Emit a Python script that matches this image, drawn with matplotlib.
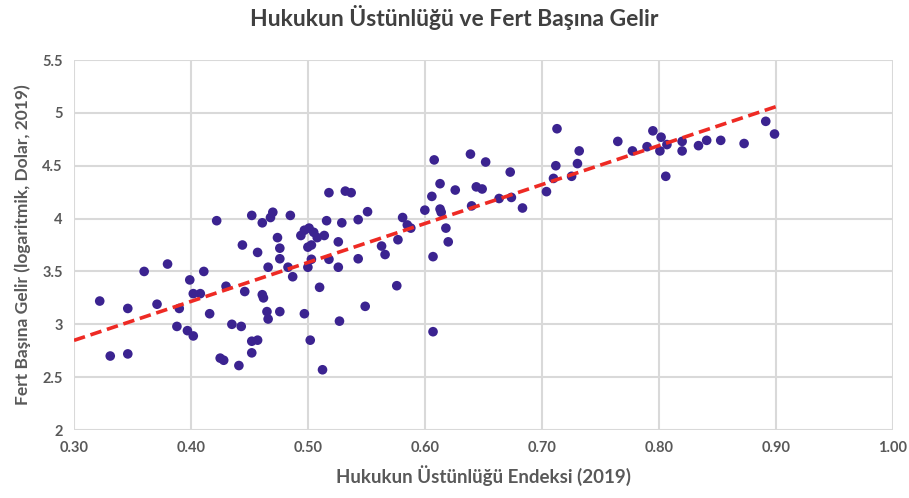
import numpy as np
import matplotlib.pyplot as plt
from matplotlib.ticker import FormatStrFormatter, FuncFormatter

# Hukukun Üstünlüğü Endeksi (2019)
rule_of_law = [
    0.322, 0.331, 0.346, 0.346, 0.360, 0.371, 0.380, 0.388, 0.390, 0.397,
    0.402, 0.399, 0.402, 0.408, 0.411, 0.416, 0.422, 0.430, 0.425, 0.428,
    0.435, 0.441, 0.443, 0.446, 0.444, 0.452, 0.452, 0.452, 0.457, 0.457,
    0.461, 0.468, 0.470, 0.485, 0.466, 0.461, 0.462, 0.465, 0.466, 0.476,
    0.474, 0.476, 0.476, 0.483, 0.487, 0.497, 0.494, 0.497, 0.501, 0.505,
    0.508, 0.500, 0.503, 0.500, 0.503, 0.502, 0.518, 0.532, 0.537, 0.514,
    0.516, 0.529, 0.543, 0.551, 0.526, 0.518, 0.526, 0.543, 0.510, 0.5125,
    0.527, 0.549, 0.563, 0.566, 0.576, 0.577, 0.581, 0.585, 0.588, 0.600,
    0.606, 0.613, 0.626, 0.613, 0.614, 0.618, 0.620, 0.607, 0.607, 0.640,
    0.644, 0.649, 0.608, 0.639, 0.652, 0.673, 0.6635, 0.674, 0.6835, 0.704,
    0.710, 0.712, 0.713, 0.7255, 0.7305, 0.732, 0.765, 0.7775, 0.790, 0.795,
    0.802, 0.801, 0.807, 0.806, 0.820, 0.820, 0.834, 0.841, 0.853, 0.873,
    0.8915, 0.899,
]

# Fert Başına Gelir (logaritmik, Dolar, 2019)
log_income = [
    3.22, 2.70, 2.72, 3.15, 3.50, 3.19, 3.57, 2.98, 3.15, 2.94,
    2.89, 3.42, 3.29, 3.29, 3.50, 3.10, 3.98, 3.36, 2.68, 2.66,
    3.00, 2.61, 2.98, 3.31, 3.75, 4.03, 2.73, 2.84, 2.85, 3.68,
    3.96, 4.01, 4.06, 4.03, 3.54, 3.28, 3.25, 3.12, 3.05, 3.12,
    3.82, 3.72, 3.62, 3.54, 3.45, 3.10, 3.84, 3.89, 3.91, 3.87,
    3.82, 3.73, 3.75, 3.54, 3.615, 2.85, 4.245, 4.26, 4.245, 3.84,
    3.98, 3.96, 3.99, 4.065, 3.78, 3.615, 3.54, 3.62, 3.35, 2.57,
    3.03, 3.17, 3.74, 3.66, 3.365, 3.80, 4.01, 3.94, 3.91, 4.08,
    4.21, 4.33, 4.27, 4.09, 4.06, 3.91, 3.78, 3.64, 2.93, 4.12,
    4.30, 4.28, 4.555, 4.61, 4.535, 4.44, 4.19, 4.20, 4.10, 4.255,
    4.38, 4.50, 4.85, 4.40, 4.52, 4.64, 4.73, 4.64, 4.68, 4.83,
    4.77, 4.64, 4.70, 4.40, 4.73, 4.64, 4.69, 4.74, 4.74, 4.71,
    4.92, 4.80,
]

x = np.array(rule_of_law)
y = np.array(log_income)

plt.rcParams['font.family'] = ['Lato', 'DejaVu Sans']

fig = plt.figure(figsize=(9.09, 4.98), dpi=100)
ax = fig.add_axes([0.0814, 0.1365, 0.9006, 0.743])

# grid first so points sit on top
ax.grid(True, color='#d9d9d9', linewidth=1.5, zorder=0)
ax.set_axisbelow(True)

ax.scatter(x, y, s=48, color='#3b2390', edgecolors='none', zorder=3)

# linear trend line
slope, intercept = np.polyfit(x, y, 1)
xs = np.array([x.min() - 0.022, x.max() + 0.002])
ax.plot(xs, slope * xs + intercept, linestyle=(0, (3.2, 1.6)), color='#ee2a24',
        linewidth=2.6, zorder=4)

ax.set_xlim(0.30, 1.00)
ax.set_ylim(2, 5.5)
ax.set_xticks(np.arange(0.30, 1.001, 0.10))
ax.set_yticks(np.arange(2, 5.51, 0.5))
ax.xaxis.set_major_formatter(FormatStrFormatter('%.2f'))
ax.yaxis.set_major_formatter(FuncFormatter(lambda v, p: '%g' % v))

for s in ax.spines.values():
    s.set_visible(False)
ax.tick_params(length=0, labelsize=10.5, colors='#595959', pad=8)
for lab in ax.get_xticklabels() + ax.get_yticklabels():
    lab.set_fontweight('bold')

ax.set_xlabel('Hukukun Üstünlüğü Endeksi (2019)', fontsize=13.5, fontweight='bold',
              color='#595959', labelpad=7)
ax.set_ylabel('Fert Başına Gelir (logaritmik, Dolar, 2019)', fontsize=12.5,
              fontweight='bold', color='#595959', labelpad=8)
fig.suptitle('Hukukun Üstünlüğü ve Fert Başına Gelir', fontsize=16.5,
             fontweight='bold', color='#404040', y=0.99)

plt.savefig('out.png', dpi=100)
